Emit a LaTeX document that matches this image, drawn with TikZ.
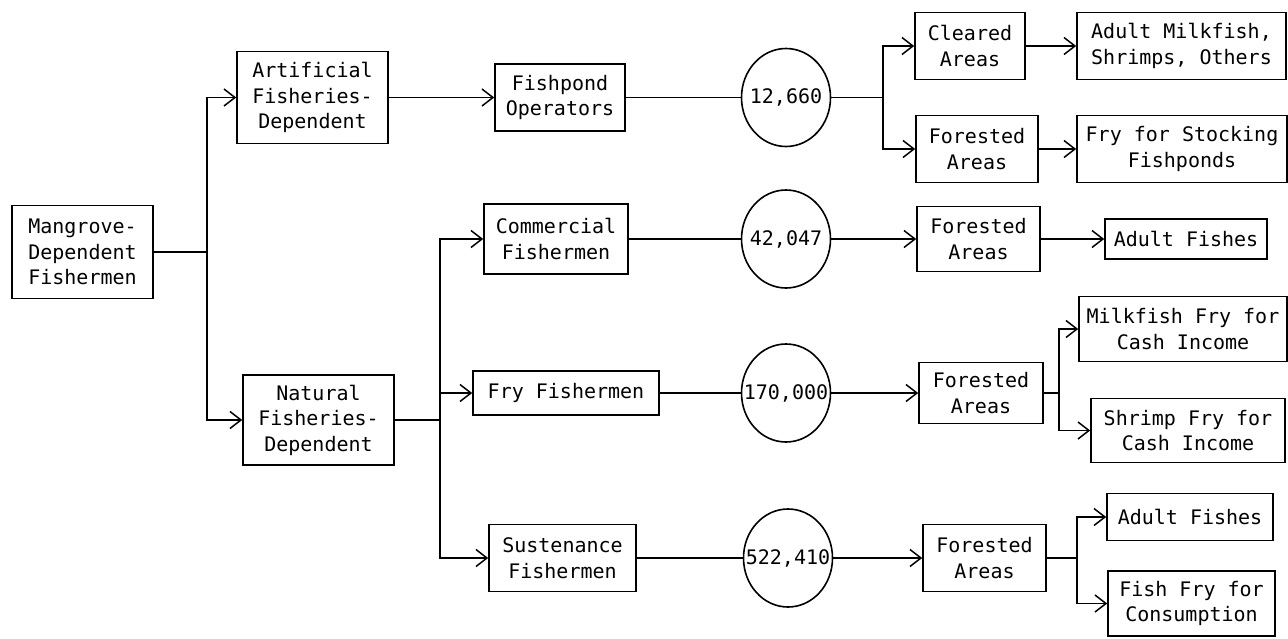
\documentclass[tikz,border=0pt]{standalone}
\usepackage{fontspec}
\newfontfamily\dmono{DejaVu Sans Mono}
\usetikzlibrary{arrows.meta,shapes.geometric}
\begin{document}
\begin{tikzpicture}[x=1pt,y=-1pt,
  box/.style={draw, line width=1.6pt, inner sep=0pt, align=center,
    font=\dmono\fontsize{20}{25.5}\selectfont},
  num/.style={draw, ellipse, line width=1.6pt, inner sep=0pt,
    minimum width=89pt, minimum height=98pt,
    font=\dmono\fontsize{20}{25.5}\selectfont},
  conn/.style={line width=1.6pt},
  arr/.style={conn, -{Straight Barb[length=11pt,width=17pt,line width=1.5pt]}}]
\useasboundingbox[fill=white] (0,0) rectangle (1288,638);

% nodes
\node[box, minimum width=141pt, minimum height=93pt] (mang) at (82.5,252) {Mangrove-\\Dependent\\Fishermen};
\node[box, minimum width=151pt, minimum height=92pt] (art) at (312.5,97.5) {Artificial\\Fisheries-\\Dependent};
\node[box, minimum width=151pt, minimum height=90pt] (nat) at (318.5,420) {Natural\\Fisheries-\\Dependent};

\node[box, minimum width=130pt, minimum height=67pt] (fish) at (560,97.5) {Fishpond\\Operators};
\node[box, minimum width=144pt, minimum height=70pt] (comm) at (556,239) {Commercial\\Fishermen};
\node[box, minimum width=186pt, minimum height=44pt] (fry) at (566,393) {Fry Fishermen};
\node[box, minimum width=147pt, minimum height=67pt] (sust) at (562.5,558) {Sustenance\\Fishermen};

\node[num] (c1) at (786,97.5) {\makebox[0pt]{12,660}};
\node[num] (c2) at (786,239) {\makebox[0pt]{42,047}};
\node[num] (c3) at (786,393) {\makebox[0pt]{170,000}};
\node[num] (c4) at (788,558) {\makebox[0pt]{522,410}};

\node[box, minimum width=110pt, minimum height=67pt] (clr) at (970,46) {Cleared\\Areas};
\node[box, minimum width=122pt, minimum height=67pt] (forA) at (977,149) {Forested\\Areas};
\node[box, minimum width=209pt, minimum height=67pt] (amilk) at (1181.5,46) {Adult Milkfish,\\Shrimps, Others};
\node[box, minimum width=210pt, minimum height=67pt] (fstock) at (1182,149) {Fry for Stocking\\Fishponds};

\node[box, minimum width=123pt, minimum height=65pt] (forB) at (978.5,239) {Forested\\Areas};
\node[box, minimum width=162pt, minimum height=40pt] (afish1) at (1186,239) {Adult Fishes};

\node[box, minimum width=124pt, minimum height=61pt] (forC) at (981,393) {Forested\\Areas};
\node[box, minimum width=208pt, minimum height=65pt] (mfry) at (1183,329) {Milkfish Fry for\\Cash Income};
\node[box, minimum width=194pt, minimum height=64pt] (sfry) at (1188,430.5) {Shrimp Fry for\\Cash Income};

\node[box, minimum width=123pt, minimum height=67pt] (forD) at (984.5,558) {Forested\\Areas};
\node[box, minimum width=166pt, minimum height=47pt] (afish2) at (1190,517) {Adult Fishes};
\node[box, minimum width=167pt, minimum height=65pt] (ffry) at (1191.5,603.5) {Fish Fry for\\Consumption};

% junctions
\coordinate (j1) at (207,252);
\coordinate (j2) at (440,420);
\coordinate (j3) at (883,97.5);
\coordinate (j4) at (1059,393);
\coordinate (j5) at (1077,558);

% connectors
\draw[conn] (mang) -- (j1);
\draw[arr] (j1) |- (art);
\draw[arr] (j1) |- (nat);

\draw[arr] (art) -- (fish);
\draw[conn] (fish) -- (c1);
\draw[conn] (c1) -- (j3);
\draw[arr] (j3) |- (clr);
\draw[arr] (j3) |- (forA);
\draw[arr] (clr) -- (amilk);
\draw[arr] (forA) -- (fstock);

\draw[conn] (nat) -- (j2);
\draw[arr] (j2) |- (comm);
\draw[arr] (j2) |- (fry);
\draw[arr] (j2) |- (sust);

\draw[conn] (comm) -- (c2);
\draw[arr] (c2) -- (forB);
\draw[arr] (forB) -- (afish1);

\draw[conn] (fry) -- (c3);
\draw[arr] (c3) -- (forC);
\draw[conn] (forC) -- (j4);
\draw[arr] (j4) |- (mfry);
\draw[arr] (j4) |- (sfry);

\draw[conn] (sust) -- (c4);
\draw[arr] (c4) -- (forD);
\draw[conn] (forD) -- (j5);
\draw[arr] (j5) |- (afish2);
\draw[arr] (j5) |- (ffry);
\end{tikzpicture}
\end{document}
